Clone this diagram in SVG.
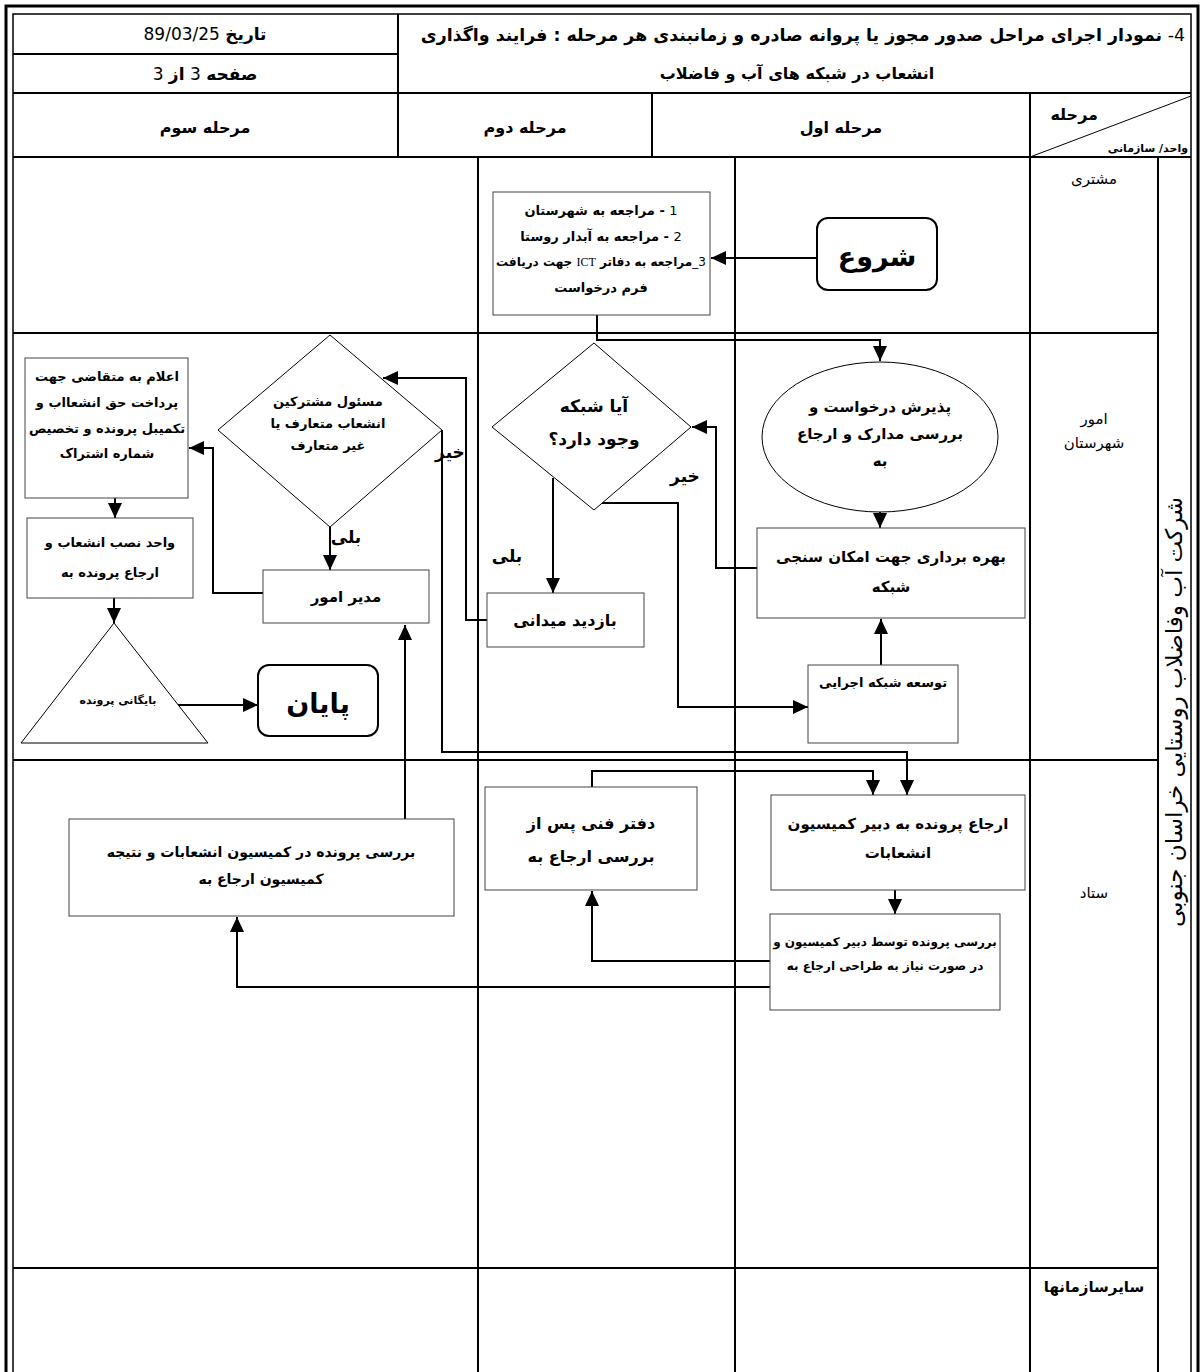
<svg xmlns="http://www.w3.org/2000/svg" width="1204" height="1372" viewBox="0 0 1204 1372">
<defs>
<marker id="ah" markerUnits="userSpaceOnUse" markerWidth="16" markerHeight="14" refX="15" refY="7" orient="auto">
<path d="M0,0 L15,7 L0,14 z" fill="#000"/>
</marker>
<style>
text{font-family:"DejaVu Sans",sans-serif;fill:#000;direction:rtl;}
.b{font-weight:bold;}
.hd{font-size:16px;font-weight:bold;}
.t{font-size:13px;font-weight:bold;}
.t3{font-size:12px;font-weight:bold;}
.lbl{font-size:15px;}
.grid{stroke:#000;stroke-width:2;fill:none;}
.box{fill:#fff;stroke:#444;stroke-width:1;}
.rbox{fill:#fff;stroke:#000;stroke-width:2;}
.shape{fill:#fff;stroke:#000;stroke-width:1;}
.c{stroke:#000;stroke-width:2;fill:none;}
.ca{stroke:#000;stroke-width:2;fill:none;marker-end:url(#ah);}
</style>
</defs>
<rect width="1204" height="1372" fill="#fff"/>
<g id="frame">
<path d="M6,1380 V6 H1198 V1380" stroke="#000" stroke-width="3" fill="none"/>
<path d="M13,1380 V14 H1191 V1380" stroke="#000" stroke-width="1.5" fill="none"/>
<line class="grid" x1="13" y1="54" x2="398" y2="54"/>
<line class="grid" x1="13" y1="93" x2="1191" y2="93"/>
<line class="grid" x1="13" y1="157" x2="1191" y2="157"/>
<line class="grid" x1="398" y1="14" x2="398" y2="157"/>
<line class="grid" x1="652" y1="93" x2="652" y2="157"/>
<line class="grid" x1="1030" y1="93" x2="1030" y2="1372"/>
<line stroke="#000" stroke-width="1" x1="1030" y1="157" x2="1191" y2="96"/>
<line class="grid" x1="478" y1="157" x2="478" y2="1372"/>
<line class="grid" x1="735" y1="157" x2="735" y2="1372"/>
<line class="grid" x1="1158" y1="157" x2="1158" y2="1372"/>
<line class="grid" x1="13" y1="333" x2="1158" y2="333"/>
<line class="grid" x1="13" y1="760" x2="1158" y2="760"/>
<line class="grid" x1="13" y1="1268" x2="1158" y2="1268"/>
</g>
<g id="header">
<text x="205" y="40" text-anchor="middle" font-size="17"><tspan class="b">تاریخ</tspan> 89/03/25</text>
<text x="205" y="80" text-anchor="middle" font-size="17"><tspan class="b">صفحه</tspan> 3 <tspan class="b">از</tspan> 3</text>
<text x="1185" y="41" text-anchor="start" font-size="17.4"><tspan>4- </tspan><tspan class="b">نمودار  اجرای مراحل صدور مجوز یا پروانه صادره و زمانبندی هر مرحله  : فرایند واگذاری</tspan></text>
<text x="797" y="79" text-anchor="middle" class="hd">انشعاب  در شبکه های آب و فاضلاب</text>
<text x="205" y="133" text-anchor="middle" class="hd">مرحله سوم</text>
<text x="525" y="133" text-anchor="middle" class="hd">مرحله دوم</text>
<text x="841" y="133" text-anchor="middle" class="hd">مرحله اول</text>
<text x="1098" y="120" text-anchor="start" class="hd">مرحله</text>
<text x="1188" y="152" text-anchor="start" font-size="11" class="b">واحد/ سازمانی</text>
</g>
<g id="lanes">
<text x="1094" y="184" text-anchor="middle" class="lbl">مشتری</text>
<text x="1094" y="424" text-anchor="middle" class="lbl">امور</text>
<text x="1094" y="448" text-anchor="middle" class="lbl">شهرستان</text>
<text x="1094" y="898" text-anchor="middle" class="lbl">ستاد</text>
<text x="1094" y="1292" text-anchor="middle" class="lbl b">سایرسازمانها</text>
<text transform="translate(1182,712) rotate(-90)" text-anchor="middle" font-size="23">شرکت آب وفاضلاب روستایی خراسان جنوبی</text>
</g>
<g id="connectors">
<line class="ca" x1="817" y1="258" x2="711" y2="258"/>
<polyline class="ca" points="597,315 597,340 880,340 880,361"/>
<line class="ca" x1="880" y1="512" x2="880" y2="528"/>
<polyline class="ca" points="757,568 716,568 716,427 692,427"/>
<polyline class="ca" points="602,503 678,503 678,707 808,707"/>
<line class="ca" x1="881" y1="665" x2="881" y2="619"/>
<line class="ca" x1="553" y1="478" x2="553" y2="593"/>
<polyline class="ca" points="487,620 466,620 466,378 383,378"/>
<line class="ca" x1="330" y1="527" x2="330" y2="570"/>
<polyline class="ca" points="263,593 213,593 213,448 189,448"/>
<line class="ca" x1="115" y1="498" x2="115" y2="518"/>
<line class="ca" x1="114" y1="598" x2="114" y2="623"/>
<line class="ca" x1="178" y1="705" x2="258" y2="705"/>
<line class="ca" x1="405" y1="819" x2="405" y2="625"/>
<polyline class="ca" points="442,430 442,752 907,752 907,795"/>
<polyline class="ca" points="592,787 592,771 873,771 873,795"/>
<line class="ca" x1="895" y1="890" x2="895" y2="914"/>
<polyline class="ca" points="770,961 592,961 592,891"/>
<polyline class="ca" points="770,987 237,987 237,917"/>
</g>
<g id="n-start">
<rect class="rbox" x="817" y="218" width="120" height="72" rx="11"/>
<text x="877" y="266" text-anchor="middle" font-size="27" class="b">شروع</text>
</g>
<g id="n-refer">
<rect class="box" x="493" y="192" width="217" height="123"/>
<text x="601" y="215" text-anchor="middle" class="t"><tspan font-weight="normal">1</tspan> - مراجعه به شهرستان</text>
<text x="601" y="241" text-anchor="middle" class="t"><tspan font-weight="normal">2</tspan> - مراجعه به آبدار روستا</text>
<text x="601" y="266" text-anchor="middle" class="t3"><tspan font-weight="normal">3_</tspan>مراجعه به دفاتر <tspan font-weight="normal" font-family="Liberation Serif">ICT</tspan> جهت دریافت</text>
<text x="601" y="292" text-anchor="middle" class="t">فرم درخواست</text>
</g>
<g id="n-accept">
<ellipse class="shape" cx="880" cy="437" rx="118" ry="75"/>
<text x="880" y="412" text-anchor="middle" font-size="15" class="b">پذیرش درخواست و</text>
<text x="880" y="439" text-anchor="middle" font-size="15" class="b">بررسی مدارک و ارجاع</text>
<text x="880" y="466" text-anchor="middle" font-size="15" class="b">به</text>
</g>
<g id="n-operate">
<rect class="box" x="757" y="528" width="268" height="90"/>
<text x="891" y="562" text-anchor="middle" font-size="15" class="b">بهره برداری جهت امکان سنجی</text>
<text x="891" y="592" text-anchor="middle" font-size="15" class="b">شبکه</text>
</g>
<g id="n-develop">
<rect class="box" x="808" y="665" width="150" height="78"/>
<text x="883" y="687" text-anchor="middle" font-size="13" class="b">توسعه شبکه  اجرایی</text>
</g>
<g id="n-network">
<polygon class="shape" points="594,343 691,427 594,510 492,427"/>
<text x="594" y="412" text-anchor="middle" font-size="17" class="b">آیا شبکه</text>
<text x="594" y="445" text-anchor="middle" font-size="17" class="b">وجود دارد؟</text>
<text x="685" y="482" text-anchor="middle" font-size="17" class="b">خیر</text>
<text x="507" y="562" text-anchor="middle" font-size="17" class="b">بلی</text>
</g>
<g id="n-visit">
<rect class="box" x="487" y="593" width="157" height="54"/>
<text x="565" y="626" text-anchor="middle" font-size="16" class="b">بازدید میدانی</text>
</g>
<g id="n-subscriber">
<polygon class="shape" points="330,335 442,430 330,527 218,430"/>
<text x="328" y="406" text-anchor="middle" font-size="13" class="b">مسئول مشترکین</text>
<text x="328" y="428" text-anchor="middle" font-size="13" class="b">انشعاب متعارف یا</text>
<text x="328" y="450" text-anchor="middle" font-size="13" class="b">غیر متعارف</text>
<text x="450" y="458" text-anchor="middle" font-size="17" class="b">خیر</text>
<text x="346" y="543" text-anchor="middle" font-size="17" class="b">بلی</text>
</g>
<g id="n-manager">
<rect class="box" x="263" y="570" width="166" height="53"/>
<text x="346" y="602" text-anchor="middle" font-size="15" class="b">مدیر امور</text>
</g>
<g id="n-notify">
<rect class="box" x="25" y="358" width="163" height="140"/>
<text x="107" y="381" text-anchor="middle" font-size="13" class="b">اعلام به متقاضی جهت</text>
<text x="107" y="407" text-anchor="middle" font-size="13" class="b">پرداخت حق انشعااب و</text>
<text x="107" y="433" text-anchor="middle" font-size="13" class="b">تکمیبل پرونده و تخصیص</text>
<text x="107" y="458" text-anchor="middle" font-size="13" class="b">شماره اشتراک</text>
</g>
<g id="n-install">
<rect class="box" x="27" y="518" width="166" height="80"/>
<text x="110" y="547" text-anchor="middle" font-size="13" class="b">واحد نصب انشعاب و</text>
<text x="110" y="577" text-anchor="middle" font-size="13" class="b">ارجاع  پرونده به</text>
</g>
<g id="n-archive">
<polygon class="shape" points="114,623 208,743 21,743"/>
<text x="118" y="704" text-anchor="middle" font-size="11" class="b">بایگانی پرونده</text>
</g>
<g id="n-end">
<rect class="rbox" x="258" y="665" width="120" height="71" rx="11"/>
<text x="318" y="713" text-anchor="middle" font-size="27" class="b">پایان</text>
</g>
<g id="n-commission">
<rect class="box" x="69" y="819" width="385" height="97"/>
<text x="261" y="857" text-anchor="middle" font-size="14" class="b">بررسی پرونده در کمیسیون انشعابات و نتیجه</text>
<text x="261" y="884" text-anchor="middle" font-size="14" class="b">کمیسیون ارجاع به</text>
</g>
<g id="n-tech">
<rect class="box" x="485" y="787" width="212" height="103"/>
<text x="591" y="829" text-anchor="middle" font-size="16" class="b">دفتر فنی پس از</text>
<text x="591" y="862" text-anchor="middle" font-size="16" class="b">بررسی ارجاع به</text>
</g>
<g id="n-secretary">
<rect class="box" x="771" y="795" width="254" height="95"/>
<text x="898" y="829" text-anchor="middle" font-size="15" class="b">ارجاع پرونده به دبیر کمیسیون</text>
<text x="898" y="858" text-anchor="middle" font-size="15" class="b">انشعابات</text>
</g>
<g id="n-review">
<rect class="box" x="770" y="914" width="230" height="96"/>
<text x="885" y="946" text-anchor="middle" font-size="12" class="b">بررسی پرونده توسط دبیر کمیسیون و</text>
<text x="885" y="970" text-anchor="middle" font-size="12" class="b">در صورت نیاز به طراحی ارجاع به</text>
</g>
</svg>
